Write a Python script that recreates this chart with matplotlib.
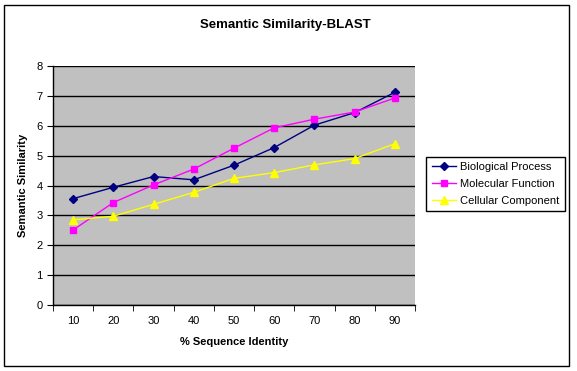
import matplotlib
matplotlib.use('Agg')
import matplotlib.pyplot as plt
from matplotlib.patches import Rectangle
import numpy as np

# +
# data
# -
identity = ['10', '20', '30', '40', '50', '60', '70', '80', '90']
biological = [3.56, 3.94, 4.30, 4.19, 4.68, 5.27, 6.02, 6.44, 7.12]
molecular = [2.51, 3.43, 4.02, 4.55, 5.25, 5.93, 6.22, 6.46, 6.93]
cellular = [2.85, 2.97, 3.37, 3.77, 4.24, 4.43, 4.69, 4.90, 5.40]

plt.rcParams['font.family'] = ['Liberation Sans', 'DejaVu Sans']

fig = plt.figure(figsize=(5.77, 3.71), dpi=100)
fig.patches.append(Rectangle((4/577, 5/371), 565/577, 361/371, transform=fig.transFigure,
                             fill=False, edgecolor='black', linewidth=1.0))
ax = fig.add_axes([53/577, 1-305/371, 362/577, 239/371])
ax.set_facecolor('#C0C0C0')

x = np.arange(len(identity))
ax.plot(x, biological, color='#000080', marker='D', markersize=4, linewidth=1.0, label='Biological Process')
ax.plot(x, molecular, color='#FF00FF', marker='s', markersize=5, linewidth=1.0, label='Molecular Function')
ax.plot(x, cellular, color='#FFFF00', marker='^', markersize=5.5, linewidth=1.0, label='Cellular Component')

ax.set_xlim(-0.5, len(identity) - 0.5)
ax.set_ylim(0, 8)
ax.set_yticks(range(0, 9))
ax.set_xticks(x)
ax.set_xticklabels(identity, fontsize=8)
ax.set_xticks(np.arange(-0.5, len(identity)), minor=True)
ax.tick_params(axis='x', which='major', length=0, pad=8)
ax.tick_params(axis='x', which='minor', length=4, direction='out')
ax.tick_params(axis='y', length=4, direction='out', labelsize=8)
ax.yaxis.grid(True, color='black', linewidth=1.0)
ax.set_axisbelow(True)
for s in ['top', 'right']:
    ax.spines[s].set_visible(False)
ax.spines['left'].set_linewidth(1.0)
ax.spines['bottom'].set_linewidth(1.0)

ax.set_xlabel('% Sequence Identity', fontsize=8, fontweight='bold', labelpad=8)
ax.set_ylabel('Semantic Similarity', fontsize=8, fontweight='bold', labelpad=6)
fig.text(0.495, 1-25/371, 'Semantic Similarity-BLAST', ha='center', va='center',
         fontsize=9.5, fontweight='bold')

leg = ax.legend(loc='center left', bbox_to_anchor=(426/577, 1-184/371), bbox_transform=fig.transFigure,
                fontsize=8, frameon=True, fancybox=False, framealpha=1, edgecolor='black',
                borderpad=0.5, handlelength=2.2, handletextpad=0.4, labelspacing=0.6,
                borderaxespad=0)
leg.get_frame().set_linewidth(1.0)

plt.savefig('out.png', dpi=100)
